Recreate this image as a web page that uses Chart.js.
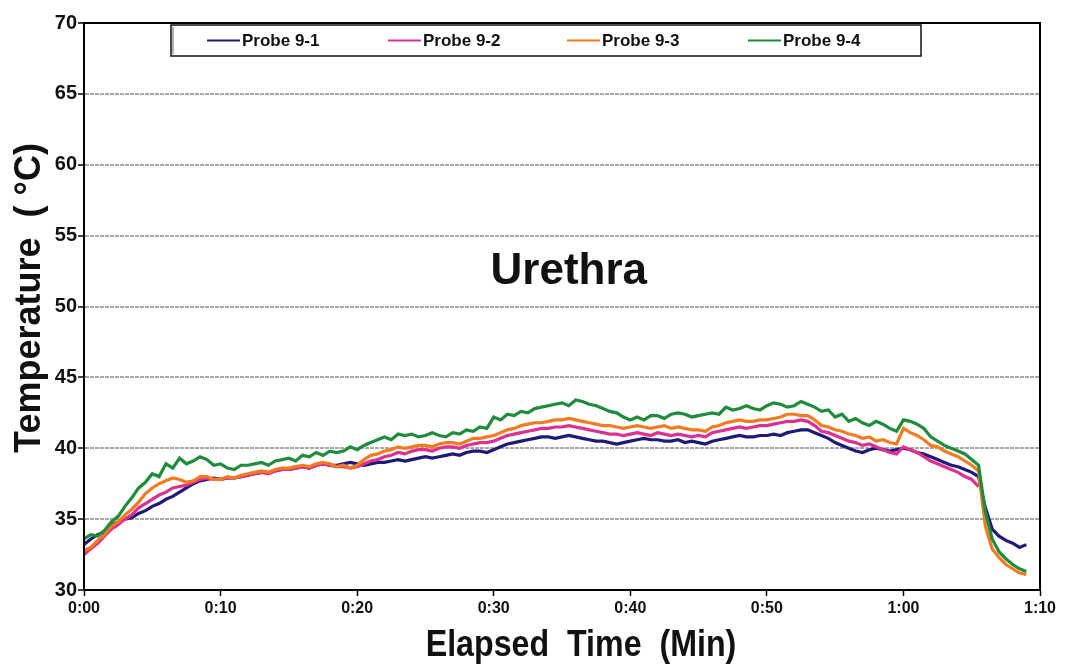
<!DOCTYPE html>
<html>
<head>
<meta charset="utf-8">
<script src="https://cdn.jsdelivr.net/npm/chart.js@4/dist/chart.umd.min.js"></script>
<style>
  html, body { margin: 0; padding: 0; background: #fff; }
  #wrap { width: 1072px; height: 668px; }
</style>
</head>
<body>
<div id="wrap"><canvas id="temps" width="1072" height="668"></canvas></div>
<script>
"use strict";

// one reading every half minute, starting at 0:00
const sampleStep = 0.5;

const seriesNames = ["Probe 9-1", "Probe 9-2", "Probe 9-3", "Probe 9-4"];

const probe91 = [
    33.2, 33.6, 33.9, 34.1, 34.6, 34.8, 35.0, 35.1, 35.4, 35.6,
    35.9, 36.1, 36.4, 36.6, 36.9, 37.2, 37.5, 37.7, 37.8, 37.9,
    37.8, 37.9, 37.9, 38.0, 38.1, 38.2, 38.3, 38.3, 38.4, 38.5,
    38.5, 38.6, 38.7, 38.6, 38.8, 38.9, 38.8, 38.8, 38.9, 39.0,
    38.9, 38.8, 38.9, 39.0, 39.0, 39.1, 39.2, 39.1, 39.2, 39.3,
    39.4, 39.3, 39.4, 39.5, 39.6, 39.5, 39.7, 39.8, 39.8, 39.7,
    39.9, 40.1, 40.3, 40.4, 40.5, 40.6, 40.7, 40.8, 40.8, 40.7,
    40.8, 40.9, 40.8, 40.7, 40.6, 40.5, 40.5, 40.4, 40.3, 40.4,
    40.5, 40.6, 40.7, 40.6, 40.6, 40.5, 40.5, 40.6, 40.4, 40.5,
    40.4, 40.3, 40.5, 40.6, 40.7, 40.8, 40.9, 40.8, 40.8, 40.9,
    40.9, 41.0, 40.9, 41.1, 41.2, 41.3, 41.3, 41.1, 40.9, 40.7,
    40.4, 40.2, 40.0, 39.8, 39.7, 39.9, 40.0, 39.9, 39.8, 39.9,
    40.0, 39.9, 39.7, 39.6, 39.4, 39.2, 39.0, 38.8, 38.7, 38.5,
    38.3, 38.0, 35.8, 34.3, 33.8, 33.5, 33.3, 33.0, 33.2
];

const probe92 = [
    32.5, 32.9, 33.3, 33.8, 34.3, 34.6, 35.0, 35.3, 35.8, 36.1,
    36.4, 36.7, 36.9, 37.2, 37.3, 37.4, 37.6, 37.8, 37.9, 37.8,
    37.8, 37.9, 37.9, 38.0, 38.1, 38.2, 38.3, 38.2, 38.4, 38.5,
    38.5, 38.6, 38.7, 38.6, 38.8, 38.9, 38.8, 38.7, 38.7, 38.6,
    38.7, 38.9, 39.1, 39.2, 39.4, 39.5, 39.7, 39.6, 39.8, 39.9,
    39.9, 39.8, 40.0, 40.1, 40.1, 40.0, 40.2, 40.3, 40.4, 40.4,
    40.5, 40.7, 40.9, 41.0, 41.1, 41.2, 41.3, 41.4, 41.4, 41.5,
    41.5, 41.6, 41.5, 41.4, 41.3, 41.2, 41.1, 41.0, 41.0, 40.9,
    41.0, 41.1, 41.0, 40.9, 41.1, 41.0, 40.9, 41.0, 40.9, 40.8,
    40.9, 40.8, 41.1, 41.2, 41.3, 41.4, 41.5, 41.4, 41.5, 41.6,
    41.6, 41.7, 41.8, 41.9, 41.9, 42.0, 41.9, 41.6, 41.2, 41.1,
    40.9, 40.7, 40.5, 40.4, 40.2, 40.3, 40.1, 39.9, 39.7, 39.6,
    40.1, 39.9, 39.7, 39.4, 39.1, 38.9, 38.7, 38.5, 38.3, 38.0,
    37.8, 37.3, null, null, null, null, null, null, null
];

const probe93 = [
    32.8, 33.0, 33.5, 33.9, 34.5, 34.8, 35.3, 35.7, 36.2, 36.8,
    37.2, 37.5, 37.7, 37.9, 37.8, 37.6, 37.7, 38.0, 38.0, 37.8,
    37.8, 38.0, 37.9, 38.1, 38.2, 38.3, 38.4, 38.3, 38.5, 38.6,
    38.6, 38.7, 38.8, 38.7, 38.9, 39.0, 38.9, 38.7, 38.8, 38.6,
    38.8, 39.2, 39.5, 39.6, 39.8, 39.9, 40.1, 40.0, 40.1, 40.2,
    40.2, 40.1, 40.3, 40.4, 40.4, 40.3, 40.5, 40.7, 40.7, 40.8,
    40.9, 41.1, 41.3, 41.4, 41.6, 41.7, 41.8, 41.8, 41.9, 42.0,
    42.0, 42.1, 42.0, 41.9, 41.8, 41.7, 41.6, 41.6, 41.5, 41.4,
    41.5, 41.6, 41.5, 41.4, 41.5, 41.6, 41.4, 41.5, 41.4, 41.3,
    41.3, 41.2, 41.5, 41.6, 41.8, 41.9, 42.0, 41.9, 41.9, 42.0,
    42.0, 42.1, 42.2, 42.4, 42.4, 42.3, 42.3, 42.0, 41.6, 41.5,
    41.3, 41.2, 41.0, 40.9, 40.7, 40.8, 40.5, 40.6, 40.4, 40.3,
    41.4, 41.1, 40.9, 40.6, 40.2, 40.1, 39.8, 39.6, 39.4, 39.1,
    38.8, 38.4, 34.5, 32.9, 32.3, 31.8, 31.5, 31.2, 31.1
];

const probe94 = [
    33.6, 33.9, 33.8, 34.2, 34.8, 35.2, 35.9, 36.5, 37.2, 37.6,
    38.2, 38.0, 38.9, 38.6, 39.3, 38.9, 39.1, 39.4, 39.2, 38.8,
    38.9, 38.6, 38.5, 38.8, 38.8, 38.9, 39.0, 38.8, 39.1, 39.2,
    39.3, 39.1, 39.5, 39.4, 39.7, 39.5, 39.8, 39.7, 39.8, 40.1,
    39.9, 40.2, 40.4, 40.6, 40.8, 40.6, 41.0, 40.9, 41.0, 40.8,
    40.9, 41.1, 40.9, 40.8, 41.1, 41.0, 41.3, 41.2, 41.5, 41.4,
    42.2, 42.0, 42.4, 42.3, 42.6, 42.5, 42.8, 42.9, 43.0, 43.1,
    43.2, 43.0, 43.4, 43.3, 43.1, 43.0, 42.8, 42.6, 42.5, 42.2,
    42.0, 42.2, 42.0, 42.3, 42.3, 42.1, 42.4, 42.5, 42.4, 42.2,
    42.3, 42.4, 42.5, 42.4, 42.9, 42.7, 42.8, 43.0, 42.8, 42.7,
    43.0, 43.2, 43.1, 42.9, 43.0, 43.3, 43.1, 42.9, 42.6, 42.7,
    42.2, 42.4, 41.9, 42.1, 41.8, 41.6, 41.9, 41.7, 41.4, 41.2,
    42.0, 41.9, 41.7, 41.4, 40.8, 40.5, 40.2, 40.0, 39.8, 39.6,
    39.2, 38.8, 35.5, 33.6, 32.7, 32.2, 31.8, 31.5, 31.3
];

const seriesColors = ["#1d1a78", "#e0308f", "#f47a20", "#1f8c3c"];

function topoints(arr) {
    return arr.map(function(v, i) {
        return { x: i * sampleStep, y: v };
    });
}

function minutelabel(v) {
    let h = Math.floor(v / 60);
    let m = v % 60;
    return h + ":" + (m < 10 ? "0" + m : m);
}

// titles, the "Urethra" label, the boxed legend and the plot frame
const decor = {
    id: "decor",
    afterDraw(chart) {
        const ctx = chart.ctx;
        const a = chart.chartArea;
        const xs = chart.scales.x, ys = chart.scales.y;
        ctx.save();

        ctx.strokeStyle = "#000";
        ctx.lineWidth = 2;
        ctx.strokeRect(a.left, a.top, a.right - a.left, a.bottom - a.top);

        ctx.fillStyle = "#111";
        ctx.textAlign = "center";
        ctx.textBaseline = "alphabetic";
        ctx.font = "bold 44px 'Liberation Sans', Arial, sans-serif";
        ctx.fillText("Urethra", xs.getPixelForValue(35.5), ys.getPixelForValue(51.6));

        // x title, a bit condensed
        ctx.save();
        ctx.translate(581, 656);
        ctx.scale(0.87, 1);
        ctx.font = "bold 37px 'Liberation Sans', Arial, sans-serif";
        ctx.fillText("Elapsed  Time  (Min)", 0, 0);
        ctx.restore();

        ctx.save();
        ctx.translate(30, 298);
        ctx.rotate(-Math.PI / 2);
        ctx.textBaseline = "middle";
        ctx.font = "bold 36px 'Liberation Sans', Arial, sans-serif";
        ctx.fillText("Temperature  ( \u00B0C)", 0, 0);
        ctx.restore();

        // legend box
        const bx = 171, by = 25, bw = 750, bh = 31;
        ctx.fillStyle = "#fff";
        ctx.fillRect(bx, by, bw, bh);
        ctx.lineWidth = 1.5;
        ctx.strokeStyle = "#111";
        ctx.strokeRect(bx, by, bw, bh);
        ctx.strokeStyle = "#999";
        ctx.beginPath();
        ctx.moveTo(bx + 2, by + 2);
        ctx.lineTo(bx + 2, by + bh - 2);
        ctx.stroke();

        const itemx = [207, 388, 567, 748];
        ctx.font = "bold 17px 'Liberation Sans', Arial, sans-serif";
        ctx.textAlign = "left";
        ctx.textBaseline = "middle";
        chart.data.datasets.forEach(function(ds, i) {
            const ly = by + bh / 2;
            ctx.strokeStyle = ds.borderColor;
            ctx.lineWidth = 2;
            ctx.beginPath();
            ctx.moveTo(itemx[i], ly);
            ctx.lineTo(itemx[i] + 33, ly);
            ctx.stroke();
            ctx.fillStyle = "#111";
            ctx.fillText(ds.label, itemx[i] + 35, ly + 1);
        });

        ctx.restore();
    }
};

const datasets = [probe91, probe92, probe93, probe94].map(function(arr, i) {
    return {
        label: seriesNames[i],
        data: topoints(arr),
        borderColor: seriesColors[i],
        backgroundColor: seriesColors[i],
        borderWidth: 3.2,
        pointRadius: 0,
        tension: 0,
        spanGaps: false,
        order: 4 - i
    };
});

new Chart(document.getElementById("temps"), {
    type: "line",
    data: { datasets: datasets },
    options: {
        responsive: false,
        animation: false,
        layout: { padding: { top: 23, right: 32, left: 0, bottom: 0 } },
        plugins: {
            legend: { display: false },
            tooltip: { enabled: false }
        },
        scales: {
            x: {
                type: "linear",
                min: 0,
                max: 70,
                ticks: {
                    stepSize: 10,
                    callback: minutelabel,
                    color: "#111",
                    font: { family: "'Liberation Sans', Arial, sans-serif", size: 16, weight: "bold" },
                    maxRotation: 0,
                    padding: 3
                },
                grid: {
                    drawOnChartArea: false,
                    drawTicks: true,
                    tickLength: 6,
                    tickColor: "#000",
                    tickWidth: 1.5
                },
                border: { color: "#000", width: 2 },
                afterFit: function(s) { s.height = 78; }
            },
            y: {
                min: 30,
                max: 70,
                ticks: {
                    stepSize: 5,
                    color: "#111",
                    font: { family: "'Liberation Sans', Arial, sans-serif", size: 20, weight: "bold" },
                    padding: 1
                },
                grid: {
                    color: function(c) {
                        return (c.tick && (c.tick.value === 30 || c.tick.value === 70)) ? "rgba(0,0,0,0)" : "#a8a8a8";
                    },
                    lineWidth: 2,
                    tickLength: 6,
                    tickColor: "#000",
                    tickWidth: 1.5
                },
                border: { color: "#000", width: 2, dash: [4, 1] },
                afterFit: function(s) { s.width = 84; }
            }
        }
    },
    plugins: [decor]
});
</script>
</body>
</html>
